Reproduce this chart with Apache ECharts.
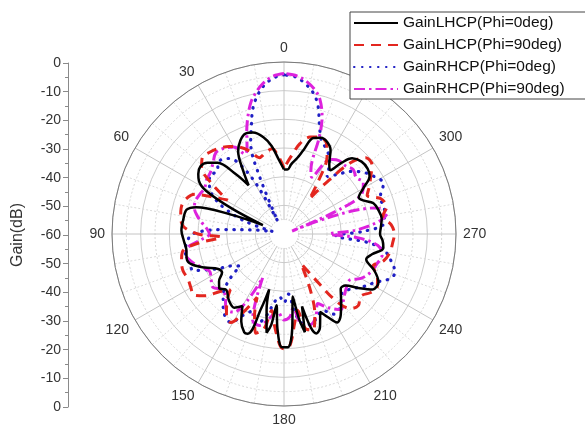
<!DOCTYPE html>
<html>
<head>
<meta charset="utf-8">
<script src="https://cdn.jsdelivr.net/npm/echarts@6/dist/echarts.min.js"></script>
<style>
  html, body { margin: 0; padding: 0; background: #fff; }
  #chart { width: 585px; height: 426px; }
</style>
</head>
<body>
<div id="chart"></div>
<script>
// radial axis ticks (left gauge), dB
const gainTicks = [0, -10, -20, -30, -40, -50, -60];

// GainLHCP(Phi=0deg)
const lhcp0Angle = [0, 4, 8, 12, 17, 21, 25, 29, 33, 36, 39, 43, 47, 51, 55, 58, 61, 64, 67, 70, 73, 76, 82, 88, 94, 99, 104, 108, 113, 118, 122, 126, 130, 134, 140, 146, 150, 154, 158, 160, 163, 165, 167, 170, 172, 174, 176, 179, 182, 185, 188, 190, 192, 194, 196, 198, 201, 205, 208, 211, 215, 220, 226, 230, 234, 238, 243, 248, 253, 257, 262, 266, 270, 275, 279, 284, 289, 293, 296, 300, 304, 308, 313, 318, 321, 324, 327, 331, 335, 339, 343, 347, 350, 354, 357, 360];
const lhcp0Gain = [-37.5, -34, -29, -25.5, -23, -22.5, -24, -27, -34, -39, -33, -26, -23.5, -22.5, -23.5, -25, -29, -40, -52, -40, -28, -25, -24.5, -24.2, -25, -25.5, -25, -26, -30, -34, -34.5, -32, -30.5, -32, -30, -29, -31, -26, -23, -23, -33, -40, -33, -25, -28, -35, -27, -20.5, -20.5, -27, -38, -30, -25, -34, -26, -23.5, -25, -30, -27, -24, -25.5, -29, -32.5, -32, -28, -23.5, -23, -26, -30, -28.5, -25, -25.5, -26.5, -26, -25.5, -26, -27, -30, -31, -28, -24, -23, -23, -24.5, -28, -32.5, -31, -26.5, -24.5, -24, -25, -30, -33, -35.5, -37.5, -37.5];

// GainLHCP(Phi=90deg)
const lhcp90Angle = [0, 4, 8, 13, 18, 22, 27, 32, 37, 42, 47, 51, 55, 59, 62, 66, 71, 76, 81, 86, 90, 93, 96, 100, 105, 110, 115, 120, 124, 128, 132, 136, 140, 145, 149, 153, 157, 160, 164, 168, 171, 174, 178, 180, 183, 187, 190, 193, 197, 201, 205, 210, 214, 218, 222, 226, 231, 236, 240, 245, 250, 255, 260, 265, 270, 275, 280, 285, 290, 295, 299, 303, 308, 313, 317, 321, 324, 327, 331, 335, 340, 345, 350, 355, 360];
const lhcp90Gain = [-37, -33, -30, -31, -32, -29, -26, -24, -22.5, -21.5, -21, -23, -29, -37, -33, -26, -23.5, -23, -23.5, -25, -30, -38, -30, -24, -23, -22.5, -23, -22.5, -22, -25, -30, -33, -29, -25, -24, -30, -36, -30, -24, -26, -33, -28, -21, -20, -21, -29, -33, -26, -25, -30, -38, -48, -42, -30, -25, -24, -25.5, -23.5, -22.5, -24, -27, -24, -22.5, -22, -21.5, -22.5, -25, -23, -24, -28, -26, -24, -21, -21, -26, -38, -45, -38, -29, -25, -24, -25, -28, -33, -37];

// GainRHCP(Phi=0deg)
const rhcp0Angle = [0, 4, 8, 11, 14, 17, 20, 23, 26, 29, 33, 37, 42, 47, 52, 57, 62, 67, 72, 78, 82, 86, 90, 95, 100, 106, 112, 117, 122, 126, 130, 135, 140, 145, 149, 153, 158, 163, 168, 172, 176, 180, 184, 188, 192, 197, 202, 207, 212, 218, 224, 230, 236, 242, 247, 251, 255, 260, 264, 268, 272, 276, 283, 291, 297, 302, 308, 313, 318, 323, 328, 333, 338, 342, 345, 348, 352, 356, 360];
const rhcp0Gain = [-4.5, -5.5, -8, -11, -15, -21, -26, -38, -55, -40, -30, -27, -26, -28, -27, -29, -32, -38, -46, -56, -50, -38, -28, -26, -25, -25.5, -26, -33, -39, -41, -35, -30, -27, -24.5, -24, -28, -31, -27, -31, -36, -38, -36, -39, -32, -28, -27, -29, -30, -27, -28, -31, -30, -27, -24, -20, -19, -21, -24, -30, -42, -32, -25, -24, -24, -21, -22.5, -25, -28, -32, -35, -30, -27, -25, -20, -14, -10, -7, -5, -4.5];

// GainRHCP(Phi=90deg)
const rhcp90Angle = [0, 4, 8, 11, 14, 17, 20, 23, 26, 30, 35, 40, 45, 50, 55, 60, 65, 70, 74, 78, 82, 86, 90, 94, 98, 102, 107, 112, 117, 122, 127, 132, 137, 142, 147, 151, 154, 157, 160, 165, 170, 175, 180, 184, 187, 191, 196, 201, 206, 211, 217, 222, 228, 235, 240, 246, 252, 258, 263, 267, 270, 273, 278, 282, 286, 290, 294, 298, 303, 308, 313, 318, 323, 327, 330, 334, 337, 340, 342, 345, 348, 352, 356, 360];
const rhcp90Gain = [-4, -4.8, -7, -9.5, -12.5, -17, -22, -27, -29, -25, -23.5, -23, -25, -26.5, -27, -28, -27.5, -27, -27.5, -29, -31, -33, -34, -31, -26, -25, -26.5, -29, -31, -30, -29, -31, -30, -27, -27.5, -33, -43, -35, -28, -27, -30, -33, -30, -31, -34, -28, -27, -29, -33, -30, -27, -29, -31, -32, -29, -27, -26, -25, -27, -34, -44, -35, -26, -23, -27, -57, -38, -29, -27, -28, -27, -28, -28, -29, -31, -38, -36, -24, -17, -11.5, -8.5, -6, -4.5, -4];

const seriesNames = ['GainLHCP(Phi=0deg)', 'GainLHCP(Phi=90deg)', 'GainRHCP(Phi=0deg)', 'GainRHCP(Phi=90deg)'];

const font = 'Liberation Sans, Arial, sans-serif';
const cx = 284, cy = 234, R = 172;

// polar data is [radius, angle]
const pairs = (angles, gains) => angles.map((a, i) => [gains[i], a]);

const chart = echarts.init(document.getElementById('chart'));

chart.setOption({
  animation: false,
  textStyle: { fontFamily: font },
  polar: { center: [cx, cy], radius: [0, R] },
  angleAxis: {
    type: 'value',
    min: 0,
    max: 360,
    interval: 30,
    startAngle: 90,
    clockwise: false,
    axisLine: { lineStyle: { color: '#7a7a7a', width: 1 } },
    axisTick: { show: false },
    axisLabel: {
      margin: 7,
      color: '#333',
      fontSize: 14,
      fontFamily: font,
      formatter: v => (v === 360 ? '' : String(v))
    },
    splitLine: { lineStyle: { color: '#c4c4c4', width: 1 } },
    minorTick: { show: false, splitNumber: 3 },
    minorSplitLine: { show: true, lineStyle: { color: '#dadada', type: [2, 2] } }
  },
  radiusAxis: {
    type: 'value',
    min: -60,
    max: 0,
    interval: 10,
    axisLine: { show: false },
    axisTick: { show: false },
    axisLabel: { show: false },
    splitLine: { lineStyle: { color: '#cccccc', width: 1 } },
    minorTick: { show: false, splitNumber: 2 },
    minorSplitLine: { show: true, lineStyle: { color: '#d6d6d6', type: [2, 2] } }
  },
  // the straight gauge on the left
  grid: { left: 68, top: 63, width: 1, height: 344 },
  xAxis: { type: 'value', show: false, min: 0, max: 1 },
  yAxis: {
    type: 'value',
    min: -60,
    max: 60,
    interval: 10,
    name: 'Gain(dB)',
    nameLocation: 'middle',
    nameGap: 42,
    nameTextStyle: { fontSize: 16, color: '#333', fontFamily: font },
    axisLine: { show: true, lineStyle: { color: '#8a8a8a' } },
    axisTick: { show: true, length: 5, lineStyle: { color: '#8a8a8a' } },
    minorTick: { show: true, splitNumber: 2, length: 3, lineStyle: { color: '#8a8a8a' } },
    splitLine: { show: false },
    axisLabel: {
      margin: 7,
      color: '#333',
      fontSize: 14,
      fontFamily: font,
      formatter: v => {
        const label = Math.abs(v) + gainTicks[gainTicks.length - 1];
        return String(label === 0 ? 0 : label);
      }
    }
  },
  legend: {
    orient: 'vertical',
    left: 350,
    top: 12,
    padding: [3, 40, 2, 3],
    itemWidth: 44,
    itemHeight: 12,
    itemGap: 6,
    borderColor: '#444',
    borderWidth: 1,
    backgroundColor: '#fff',
    itemStyle: { opacity: 0 },
    textStyle: { fontSize: 15.5, color: '#111', fontFamily: font },
    data: seriesNames
  },
  graphic: [{
    type: 'circle',
    z: 1,
    silent: true,
    shape: { cx: cx, cy: cy, r: 14 },
    style: { fill: '#fff' }
  }],
  series: [
    {
      name: seriesNames[0],
      type: 'line',
      coordinateSystem: 'polar',
      symbol: 'none',
      smooth: 0.35,
      z: 5,
      lineStyle: { color: '#000', width: 2.5 },
      data: pairs(lhcp0Angle, lhcp0Gain)
    },
    {
      name: seriesNames[1],
      type: 'line',
      coordinateSystem: 'polar',
      symbol: 'none',
      smooth: 0.35,
      z: 4,
      lineStyle: { color: '#e3261f', width: 3, type: [10, 7] },
      data: pairs(lhcp90Angle, lhcp90Gain)
    },
    {
      name: seriesNames[2],
      type: 'line',
      coordinateSystem: 'polar',
      symbol: 'none',
      smooth: 0.35,
      z: 3,
      lineStyle: { color: '#1f1fc4', width: 3.2, type: [0.5, 7.5], cap: 'round' },
      data: pairs(rhcp0Angle, rhcp0Gain)
    },
    {
      name: seriesNames[3],
      type: 'line',
      coordinateSystem: 'polar',
      symbol: 'none',
      smooth: 0.35,
      z: 3,
      lineStyle: { color: '#dd22dd', width: 3, type: [11, 4, 2.5, 4] },
      data: pairs(rhcp90Angle, rhcp90Gain)
    }
  ]
});
</script>
</body>
</html>
